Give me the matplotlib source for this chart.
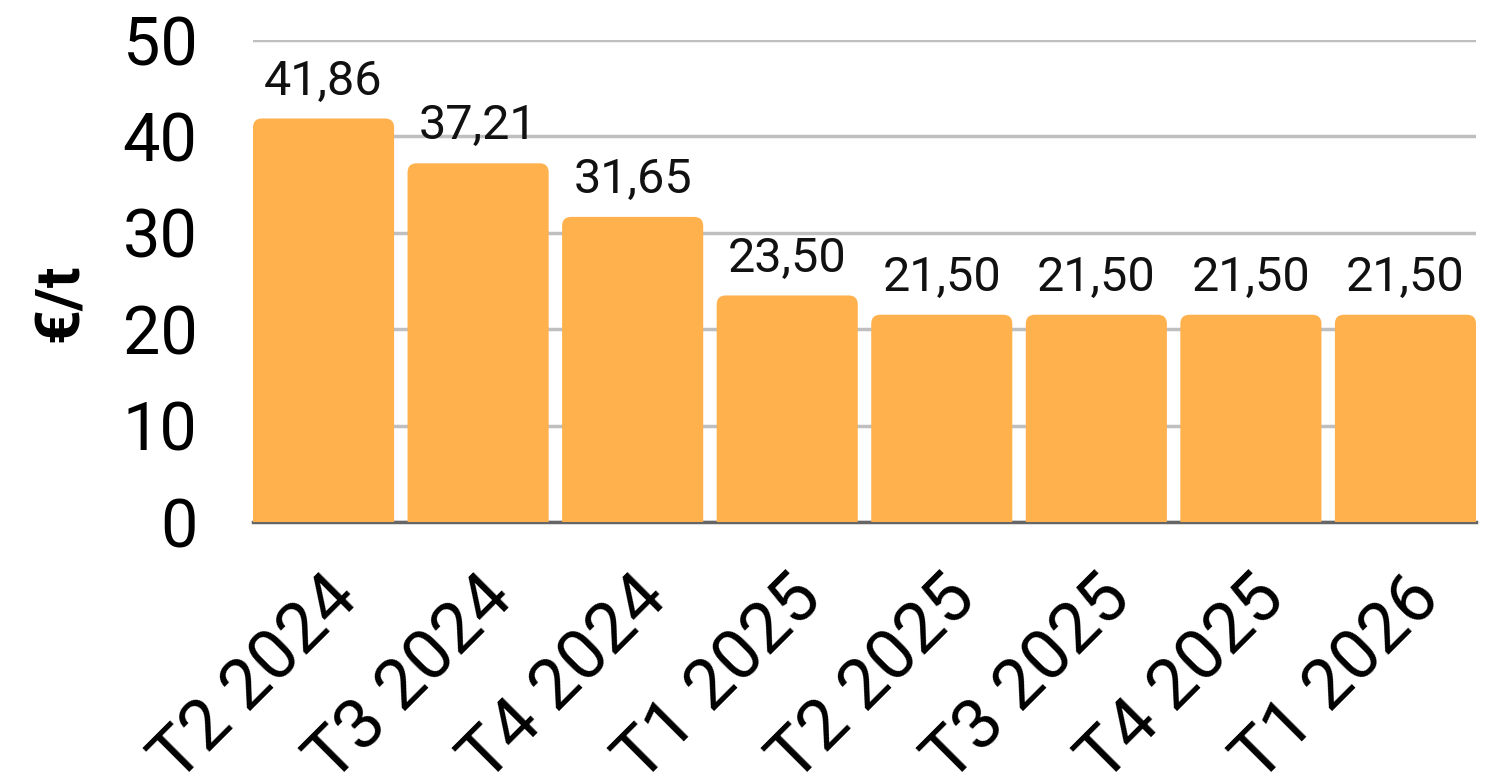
import matplotlib
matplotlib.use("Agg")
import matplotlib.pyplot as plt
from matplotlib.patches import FancyBboxPatch

plt.rcParams['font.family'] = ['Roboto', 'DejaVu Sans']

categories = ["T2 2024", "T3 2024", "T4 2024", "T1 2025",
              "T2 2025", "T3 2025", "T4 2025", "T1 2026"]
values = [41.86, 37.21, 31.65, 23.50, 21.50, 21.50, 21.50, 21.50]
yticks = [0, 10, 20, 30, 40, 50]

bar_color = "#FFB14E"
width = 0.913

fig = plt.figure(figsize=(15.03, 7.78), dpi=100)
ax = fig.add_axes([253 / 1503, 1 - 522 / 778, (1476 - 253) / 1503, (522 - 40) / 778])

x = list(range(len(categories)))
bars = ax.bar(x, values, width=width, color=bar_color, zorder=3)

ax.set_xlim(-width / 2, len(categories) - 1 + width / 2)
ax.set_ylim(0, 50)

# replace plain rectangles with top-rounded boxes (bottom part clipped by the axes)
fig.canvas.draw()
px_per_x = ax.transData.transform((1, 0))[0] - ax.transData.transform((0, 0))[0]
px_per_y = ax.transData.transform((0, 1))[1] - ax.transData.transform((0, 0))[1]
radius_px = 9
rx = radius_px / px_per_x
aspect = (radius_px / px_per_y) / rx
for b in bars:
    bx, by = b.get_x(), b.get_y()
    bw, bh = b.get_width(), b.get_height()
    b.set_visible(False)
    patch = FancyBboxPatch((bx, by - 3), bw, bh + 3,
                           boxstyle=f"round,pad=0,rounding_size={rx}",
                           mutation_aspect=aspect,
                           facecolor=bar_color, edgecolor="none", zorder=3)
    ax.add_patch(patch)

for xi, v in zip(x, values):
    ax.annotate(f"{v:.2f}".replace(".", ","), (xi, v),
                xytext=(0, 10), textcoords="offset points",
                ha="center", va="bottom", fontsize=35, color="#111111")

ax.set_yticks(yticks)
ax.set_yticklabels([str(t) for t in yticks], fontsize=48)
ax.set_xticks(x)
ax.set_xticklabels(categories, fontsize=51, rotation=45,
                   ha="right", va="top", rotation_mode="anchor")
ax.tick_params(axis="both", length=0)
ax.tick_params(axis="y", pad=40)
ax.tick_params(axis="x", pad=30)

ax.grid(axis="y", color="#bfbfbf", linewidth=2.5, zorder=0)
ax.set_axisbelow(True)
for s in ["top", "right", "left"]:
    ax.spines[s].set_visible(False)
ax.spines["bottom"].set_color("#666666")
ax.spines["bottom"].set_linewidth(2.5)
ax.spines["bottom"].set_zorder(2)

ax.set_ylabel("€/t", fontsize=44, fontweight="bold")
ax.yaxis.set_label_coords(-0.133, 0.455)

fig.savefig("out.png", dpi=100)
